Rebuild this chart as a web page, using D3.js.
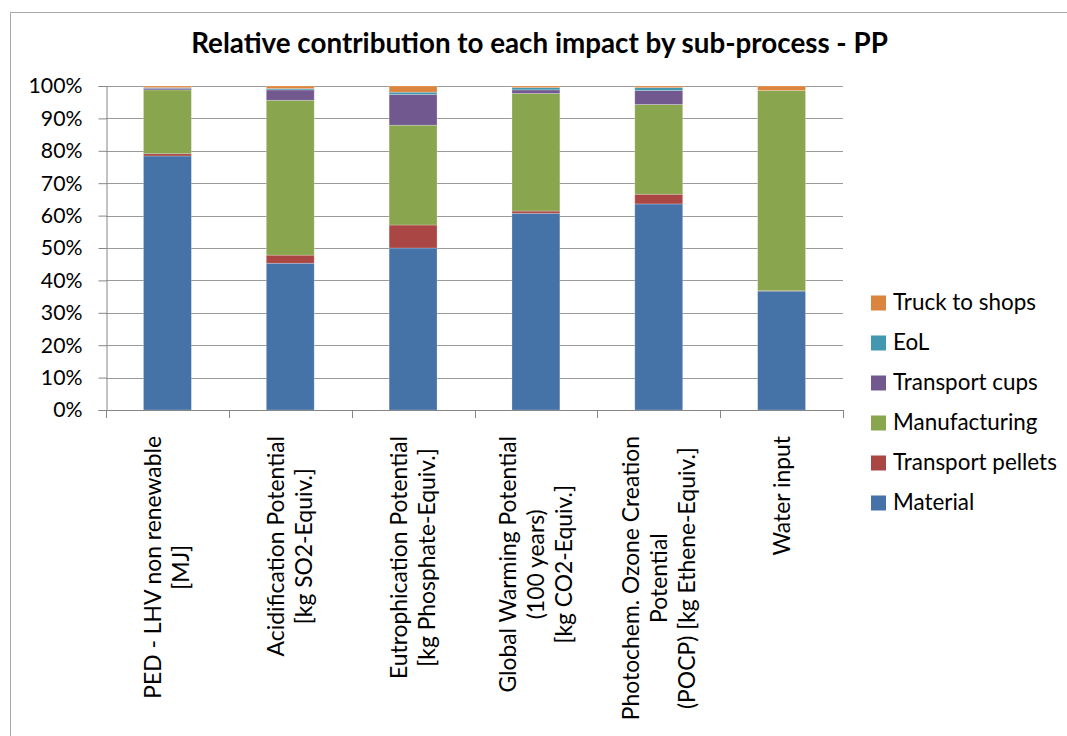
<!DOCTYPE html>
<html>
<head>
<meta charset="utf-8">
<script src="https://cdn.jsdelivr.net/npm/d3@7"></script>
<style>
  html, body { margin: 0; padding: 0; background: #fff; }
  svg { display: block; }
  text { font-family: Lato, "Open Sans", "Noto Sans", sans-serif; fill: #000; }
</style>
</head>
<body>
<svg id="chart" width="1067" height="736"></svg>
<script>
// ---- data ----
const categoryLines = [
  ["PED - LHV non renewable", "[MJ]"],
  ["Acidification Potential", "[kg SO2-Equiv.]"],
  ["Eutrophication Potential", "[kg Phosphate-Equiv.]"],
  ["Global Warming Potential", "(100 years)", "[kg CO2-Equiv.]"],
  ["Photochem. Ozone Creation", "Potential", "(POCP) [kg Ethene-Equiv.]"],
  ["Water input"]
];
const seriesNames = ["Material", "Transport pellets", "Manufacturing", "Transport cups", "EoL", "Truck to shops"];
const material         = [78.4, 45.3, 50.0, 60.7, 63.6, 36.7];
const transportPellets = [0.7, 2.5, 7.1, 0.7, 3.0, 0.1];
const manufacturing    = [19.7, 47.8, 30.8, 36.3, 27.7, 61.8];
const transportCups    = [0.5, 3.2, 9.5, 1.1, 4.3, 0.0];
const eol              = [0.2, 0.4, 0.7, 0.7, 0.9, 0.0];
const truckToShops     = [0.5, 0.8, 1.9, 0.5, 0.5, 1.4];
const yTicks = [0, 0.1, 0.2, 0.3, 0.4, 0.5, 0.6, 0.7, 0.8, 0.9, 1.0];
const titleText = "Relative contribution to each impact by sub-process - PP";
const colors = ["#4572A7", "#AA4643", "#89A54E", "#71588F", "#4198AF", "#DB843D"];

// ---- build table ----
const seriesValues = [material, transportPellets, manufacturing, transportCups, eol, truckToShops];
const table = categoryLines.map((c, i) => {
  const row = { key: i };
  seriesNames.forEach((s, j) => row[s] = seriesValues[j][i]);
  return row;
});
const stacked = d3.stack().keys(seriesNames).offset(d3.stackOffsetExpand)(table);

const svg = d3.select("#chart");

// helper: fit font size so a reference string reaches a target width
function fitSize(str, target, weight) {
  const t = svg.append("text").attr("font-size", 20).attr("font-weight", weight || "normal").text(str);
  const w = t.node().getComputedTextLength();
  t.remove();
  return 20 * target / w;
}

// outer frame
svg.append("rect").attr("x", 10.5).attr("y", 12.5).attr("width", 1200).attr("height", 900)
  .attr("fill", "none").attr("stroke", "#a9a9a9").attr("stroke-width", 1);

const plot = { left: 106, right: 843, top: 86, bottom: 410 };

const x = d3.scaleBand().domain(d3.range(categoryLines.length))
  .range([plot.left, plot.right]).paddingInner(0.61).paddingOuter(0.305);
const y = d3.scaleLinear().domain([0, 1]).range([plot.bottom, plot.top]);

// gridlines
svg.append("g").selectAll("line").data(yTicks.filter(d => d > 0)).join("line")
  .attr("x1", plot.left).attr("x2", plot.right)
  .attr("y1", d => Math.round(y(d)) + 0.5).attr("y2", d => Math.round(y(d)) + 0.5)
  .attr("stroke", "#9a9a9a").attr("stroke-width", 1.2);

// bars
svg.append("g").selectAll("g").data(stacked).join("g")
  .attr("fill", (d, i) => colors[i])
  .selectAll("rect").data(d => d).join("rect")
  .attr("x", (d, i) => x(i))
  .attr("width", x.bandwidth())
  .attr("y", d => y(d[1]))
  .attr("height", d => Math.max(0, y(d[0]) - y(d[1])))
  .attr("stroke", "#ffffff").attr("stroke-opacity", 0.3).attr("stroke-width", 0.8);

// y axis
const yAxis = d3.axisLeft(y).tickValues(yTicks).tickFormat(d3.format(".0%")).tickSize(8).tickPadding(16);
const yg = svg.append("g").attr("transform", `translate(${plot.left + 0.5},0)`).call(yAxis);
yg.select(".domain").attr("stroke", "#868686");
yg.selectAll(".tick line").attr("stroke", "#868686");
const tickFs = fitSize("100%", 54);
yg.selectAll(".tick text").attr("font-size", tickFs).attr("font-family", "Lato, 'Open Sans', sans-serif").attr("fill", "#000");

// x axis line + ticks at category boundaries
const boundaries = d3.range(categoryLines.length + 1).map(i => plot.left + i * x.step());
svg.append("line").attr("x1", plot.left).attr("x2", plot.right)
  .attr("y1", plot.bottom + 0.5).attr("y2", plot.bottom + 0.5).attr("stroke", "#868686");
svg.append("g").selectAll("line").data(boundaries).join("line")
  .attr("x1", d => Math.round(d) + 0.5).attr("x2", d => Math.round(d) + 0.5)
  .attr("y1", plot.bottom).attr("y2", plot.bottom + 8).attr("stroke", "#868686");

// x labels (rotated)
const xFs = fitSize(categoryLines[0][0], 263);
const lineH = xFs * 1.22;
categoryLines.forEach((lines, i) => {
  const cx = x(i) + x.bandwidth() / 2;
  const g = svg.append("g").attr("transform", `translate(${cx},436) rotate(-90)`);
  const tmp = lines.map(l => {
    const t = g.append("text").attr("font-size", xFs).text(l);
    return t;
  });
  const maxW = d3.max(tmp, t => t.node().getComputedTextLength());
  tmp.forEach((t, j) => {
    const off = (j - (lines.length - 1) / 2) * lineH + xFs * 0.35;
    t.attr("text-anchor", "middle").attr("x", -maxW / 2).attr("y", off);
  });
});

// title
const titleFs = fitSize(titleText, 697, "bold");
svg.append("text").attr("x", 539.5).attr("y", 53).attr("text-anchor", "middle")
  .attr("font-weight", "bold").attr("font-size", titleFs).text(titleText);

// legend
const legFs = fitSize("Truck to shops", 143);
const legendItems = seriesNames.map((s, i) => ({ name: s, color: colors[i] })).reverse();
const lg = svg.append("g");
legendItems.forEach((d, i) => {
  const cy = 302.5 + i * 40;
  lg.append("rect").attr("x", 871).attr("y", cy - 7).attr("width", 15).attr("height", 15).attr("fill", d.color);
  lg.append("text").attr("x", 893).attr("y", cy + legFs * 0.35).attr("font-size", legFs).text(d.name);
});
</script>
</body>
</html>
